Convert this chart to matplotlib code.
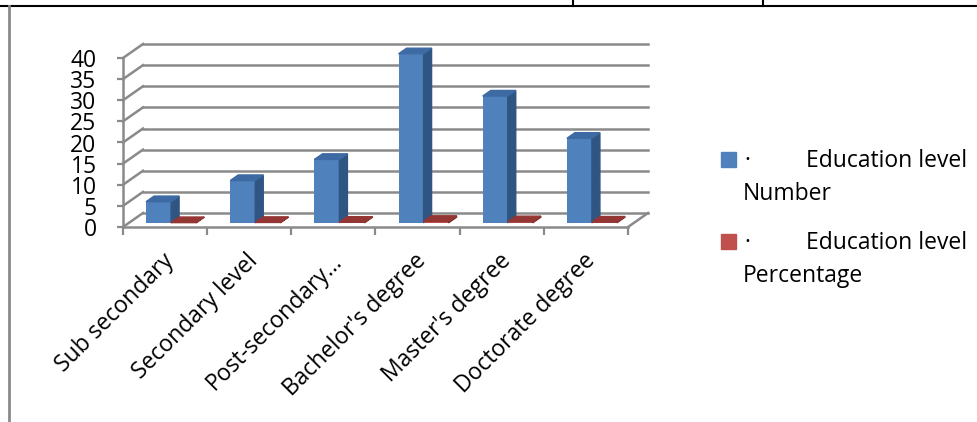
import matplotlib
matplotlib.use("Agg")
import matplotlib.pyplot as plt
from matplotlib.patches import Polygon, Rectangle
from matplotlib.lines import Line2D
import numpy as np

# data
categories = ["Sub secondary", "Secondary level", "Post-secondary\u2026",
              "Bachelor's degree", "Master's degree", "Doctorate degree"]
number = [5, 10, 15, 40, 30, 20]
percentage = [0.042, 0.083, 0.125, 0.333, 0.25, 0.167]
y_ticks = [0, 5, 10, 15, 20, 25, 30, 35, 40]

plt.rcParams['font.family'] = ['Open Sans', 'DejaVu Sans']

W, H = 977, 422
fig = plt.figure(figsize=(W / 100, H / 100), dpi=100)

# front plane of the 3d plot, in pixels
left, right, bottom, top = 123, 628, 227, 58
ax = fig.add_axes([left / W, 1 - bottom / H, (right - left) / W, (bottom - top) / H])
n = len(categories)
ax.set_xlim(0, n)
ax.set_ylim(0, 40)

# depth of the 3d box in data units
px_x = (right - left) / n
px_y = (bottom - top) / 40
dx = 20 / px_x
dy = 14 / px_y
grid_c = '#8a8a8a'

# back wall + side wall gridlines
for v in y_ticks:
    ax.plot([dx, n + dx], [v + dy, v + dy], color=grid_c, lw=1.8, clip_on=False, zorder=1)
    ax.plot([0, dx], [v, v + dy], color=grid_c, lw=1.8, clip_on=False, zorder=1)
# floor edges
ax.plot([0, n], [0, 0], color=grid_c, lw=1.8, clip_on=False, zorder=1)
ax.plot([n, n + dx], [0, dy], color=grid_c, lw=1.8, clip_on=False, zorder=1)


def bar3d(x0, w, h, front, side, topc):
    t0, t1 = 0.3, 0.7
    ox0, oy0 = t0 * dx, t0 * dy
    ox1, oy1 = t1 * dx, t1 * dy
    ax.bar(x0 + ox0, h, width=w, bottom=oy0, align='edge', color=front,
           edgecolor='none', clip_on=False, zorder=3)
    ax.add_patch(Polygon([(x0 + w + ox0, oy0), (x0 + w + ox1, oy1),
                          (x0 + w + ox1, h + oy1), (x0 + w + ox0, h + oy0)],
                         closed=True, color=side, clip_on=False, zorder=3))
    ax.add_patch(Polygon([(x0 + ox0, h + oy0), (x0 + w + ox0, h + oy0),
                          (x0 + w + ox1, h + oy1), (x0 + ox1, h + oy1)],
                         closed=True, color=topc, clip_on=False, zorder=3))


bw = 25 / px_x
for i in range(n):
    c = i + 0.5
    bar3d(c - bw, bw, number[i], '#4f81bd', '#2f5583', '#3d6aa3')
    bar3d(c, bw, percentage[i], '#c0504d', '#7f2b29', '#943634')

# axes styling
for s in ['top', 'right', 'bottom']:
    ax.spines[s].set_visible(False)
ax.spines['left'].set_color(grid_c)
ax.spines['left'].set_linewidth(1.8)
ax.set_yticks(y_ticks)
ax.set_yticklabels([str(v) for v in y_ticks], fontsize=16.5)
ax.tick_params(axis='y', length=4, width=1.6, color=grid_c, pad=15)

ax.set_xticks(np.arange(n + 1), minor=True)
ax.tick_params(axis='x', which='minor', length=6, width=1.6, color=grid_c)
ax.set_xticks(np.arange(n) + 0.5 - 3 / px_x)
ax.set_xticklabels(categories, rotation=45, ha='right', va='top',
                   rotation_mode='anchor', fontsize=16.5)
ax.tick_params(axis='x', which='major', length=0, pad=16)
ax.patch.set_visible(False)

# legend (word-style bullet text)
leg = [('#4f81bd', 'Number', 152), ('#c0504d', 'Percentage', 234)]
for col, name, ytop in leg:
    fig.patches.append(Rectangle((721 / W, 1 - (ytop + 15) / H), 15 / W, 15 / H,
                                 transform=fig.transFigure, color=col))
    fig.text(744 / W, 1 - (ytop + 15) / H, '\u00b7', fontsize=16.5, va='baseline')
    fig.text(967 / W, 1 - (ytop + 15) / H, 'Education level', fontsize=16.5,
             ha='right', va='baseline')
    fig.text(743 / W, 1 - (ytop + 48) / H, name, fontsize=16.5, va='baseline')

# table borders around the chart
fig.add_artist(Line2D([0, 1], [1 - 6 / H, 1 - 6 / H], color='black', lw=1.5))
fig.add_artist(Line2D([573 / W, 573 / W], [1 - 6 / H, 1], color='black', lw=1.5))
fig.add_artist(Line2D([763 / W, 763 / W], [1 - 6 / H, 1], color='black', lw=1.5))
fig.add_artist(Line2D([8.5 / W, 8.5 / W], [0, 1 - 6 / H], color='#8a8a8a', lw=2))

fig.savefig('out.png', dpi=100)
